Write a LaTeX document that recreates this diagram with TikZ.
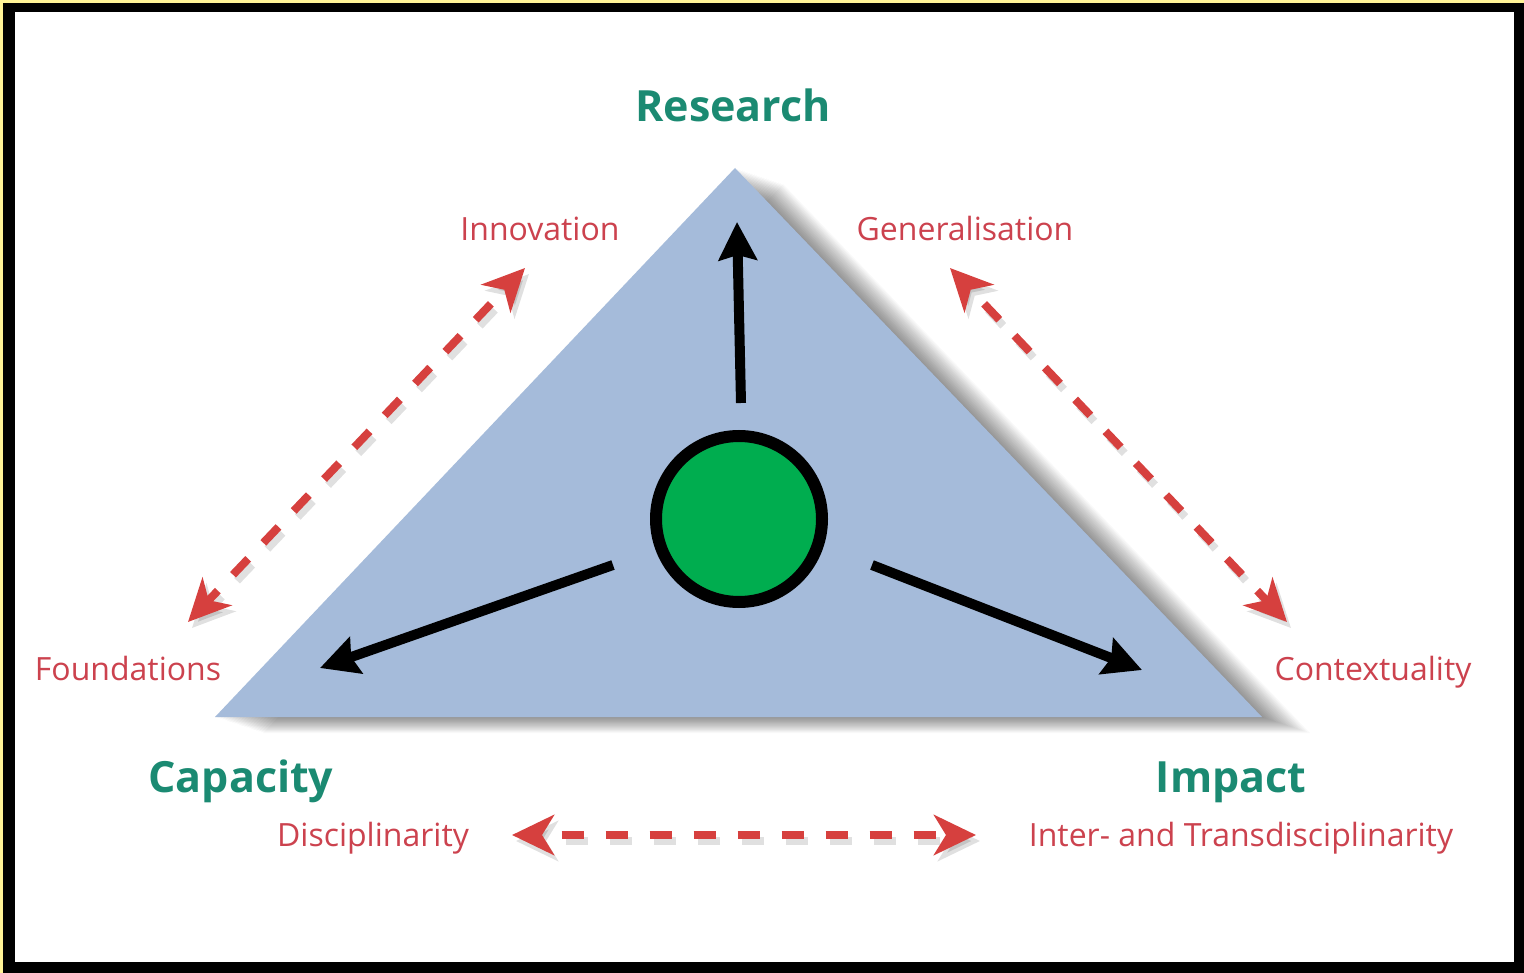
\documentclass[tikz,border=0pt]{standalone}
\usepackage{fontspec}
\setmainfont{Open Sans}
\usetikzlibrary{arrows.meta}

\definecolor{tribg}{RGB}{165,187,218}
\definecolor{hubgreen}{RGB}{0,173,79}
\definecolor{headteal}{RGB}{27,138,114}
\definecolor{labred}{RGB}{204,66,78}
\definecolor{dashred}{RGB}{214,64,62}
\definecolor{paleyellow}{RGB}{255,243,150}

\tikzset{
  cornertitle/.style={font=\fontsize{43}{43}\selectfont\bfseries, text=headteal, inner sep=0pt, anchor=base},
  polelabel/.style={font=\fontsize{32}{32}\selectfont, text=labred, inner sep=0pt, anchor=base},
  tensionline/.style={draw=dashred, line width=8pt, dash pattern=on 22pt off 22pt, dash phase=22pt,
    {Stealth[length=42pt,width=40pt,inset=12pt]}-{Stealth[length=42pt,width=40pt,inset=12pt]}},
  tensionshade/.style={tensionline, draw=black, opacity=0.12},
  pusharrow/.style={draw=black, line width=10pt, -{Stealth[length=38pt,width=38pt,inset=5pt]}},
  hubdot/.style={circle, draw=black, line width=12pt, fill=hubgreen, minimum size=166pt, inner sep=0pt}
}

\begin{document}
\begin{tikzpicture}[x=1pt,y=-1pt]
  % frame
  \fill[paleyellow] (0,0) rectangle (1524,973);
  \fill[black] (3,3) rectangle (1524,973);
  \fill[white] (15,12) rectangle (1514,962);
  \useasboundingbox (0,0) rectangle (1524,973);

  % triangle with soft shadow
  \coordinate (top) at (735,168);
  \coordinate (left) at (215,717);
  \coordinate (right) at (1262,717);
  \foreach \k in {1,...,20}
    \fill[black, opacity=0.025, transform canvas={shift={(\k*2.4pt,-\k*0.8pt)}}]
      (top) -- (right) -- (left) -- cycle;
  \fill[tribg] (top) -- (right) -- (left) -- cycle;

  % corner titles
  \node[cornertitle] (research) at (733,122) {Research};
  \node[cornertitle] (capacity) at (241,792) {Capacity};
  \node[cornertitle] (impact) at (1231,792) {Impact};

  % poles
  \node[polelabel] (innov) at (540,241) {Innovation};
  \node[polelabel] (gener) at (965,241) {Generalisation};
  \node[polelabel] (found) at (128,680) {Foundations};
  \node[polelabel] (context) at (1373,680) {Contextuality};
  \node[polelabel] (discip) at (373,846) {Disciplinarity};
  \node[polelabel] (inter) at (1241,846) {Inter- and Transdisciplinarity};

  % dashed tensions
  \coordinate (l1) at (525,268);
  \coordinate (l2) at (188,622);
  \coordinate (r1) at (950,268);
  \coordinate (r2) at (1287,622);
  \coordinate (b1) at (512,835);
  \coordinate (b2) at (976,835);
  \foreach \a/\b in {l1/l2, r1/r2, b1/b2} {
    \draw[tensionshade, transform canvas={shift={(4pt,-6pt)}}] (\a) -- (\b);
    \draw[tensionline] (\a) -- (\b);
  }

  % hub and arrows
  \node[hubdot] (centre) at (739,519) {};
  \coordinate (up0) at (741,403);
  \coordinate (up1) at (737,222);
  \coordinate (lf0) at (613,565);
  \coordinate (lf1) at (320,668);
  \coordinate (rt0) at (872,565);
  \coordinate (rt1) at (1142,670);
  \draw[pusharrow] (up0) -- (up1);
  \draw[pusharrow] (lf0) -- (lf1);
  \draw[pusharrow] (rt0) -- (rt1);
\end{tikzpicture}
\end{document}
